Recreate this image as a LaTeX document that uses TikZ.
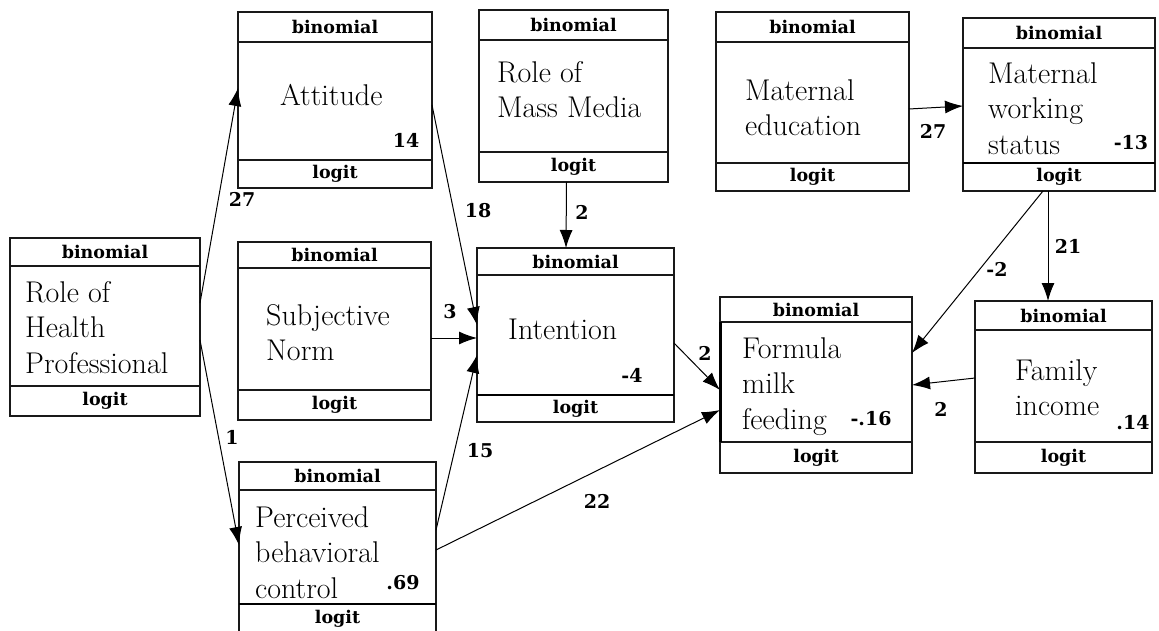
\documentclass[tikz,border=0pt]{standalone}
\usepackage{fontspec}
\newfontfamily\lblfont{DejaVu Serif}
\usetikzlibrary{arrows.meta,calc}
\newcommand\mkbox[8]{%
  \node[box, minimum width={#4-#2}, minimum height={#5-#3}] (#1) at (#2,#3) {};
  \draw[sep] ([yshift={-(#6-#3)}]#1.north west) -- ([yshift={-(#6-#3)}]#1.north east);
  \draw[#8] ([yshift={-(#7-#3)}]#1.north west) -- ([yshift={-(#7-#3)}]#1.north east);
  \node[hdr] (#1-h) at ({(#2+#4)/2},{(#3+#6)/2}) {binomial};
  \node[hdr] (#1-l) at ({(#2+#4)/2},{(#7+#5)/2}) {logit};
}
\begin{document}
\begin{tikzpicture}[x=1pt,y=-1pt,
  box/.style={draw=black!90, line width=1.3pt, fill=white, inner sep=0, outer sep=0, anchor=north west},
  sep/.style={draw=black!90, line width=1.3pt},
  thicksep/.style={draw=black, line width=2.6pt},
  hdr/.style={font=\lblfont\bfseries\fontsize{17.5}{20}\selectfont, inner sep=0},
  main/.style={font=\fontsize{30}{35.5}\selectfont, align=left, inner sep=0, anchor=north west},
  val/.style={font=\lblfont\bfseries\fontsize{19}{22}\selectfont, inner sep=0},
  elbl/.style={font=\lblfont\bfseries\fontsize{19}{22}\selectfont, inner sep=0},
  conn/.style={line width=1pt, -{Latex[length=18pt,width=13pt]}}
]
\useasboundingbox (0,0) rectangle (1159,631);
\clip (0,0) rectangle (1159,631);
\fill[white] (0,0) rectangle (1159,631);

\mkbox{hp}{10}{238}{200}{416}{266}{386}{sep}
\mkbox{att}{238}{12}{432}{188}{42}{160}{sep}
\mkbox{mm}{479}{10}{668}{182}{40}{152}{sep}
\mkbox{me}{716}{12}{909}{191}{42}{163}{sep}
\mkbox{mw}{963}{18}{1155}{191}{48}{163}{thicksep}
\mkbox{sn}{238}{242}{431}{420}{268}{390}{sep}
\mkbox{int}{477}{248}{674}{422}{275}{395}{thicksep}
\mkbox{fm}{720}{297}{912}{473}{322}{442}{sep}
\mkbox{fi}{975}{301}{1152}{473}{330}{442}{sep}
\mkbox{pbc}{239}{462}{436}{634}{490}{604}{thicksep}
\draw[line width=3pt] ([yshift=-25pt]fm.north west) -- ([yshift=-145pt]fm.north west);

% main texts
\node[main] (hp-t) at (25,281) {Role of\\Health\\Professional};
\node[main] (att-t) at (280,84) {Attitude};
\node[main] (mm-t) at (497,61) {Role of\\Mass Media};
\node[main] (me-t) at (745,79) {Maternal\\education};
\node[main] (mw-t) at (988,62) {Maternal\\working\\status};
\node[main] (sn-t) at (266,304) {Subjective\\Norm};
\node[main] (int-t) at (508,319) {Intention};
\node[main] (fm-t) at (742,337) {Formula\\milk\\feeding};
\node[main] (fi-t) at (1015,359) {Family\\income};
\node[main] (pbc-t) at (255,506) {Perceived\\behavioral\\control};

% values
\node[val] (att-v) at (406,140) {14};
\node[val] (mw-v) at (1131,143) {-13};
\node[val] (int-v) at (632,375) {-4};
\node[val] (fm-v) at (871,419) {-.16};
\node[val] (fi-v) at (1133,423) {.14};
\node[val] (pbc-v) at (403,583) {.69};

% connectors
\draw[conn] ([yshift=-65pt]hp.north east) -- ([yshift=-76pt]att.north west);
\draw[conn] ([yshift=-102pt]hp.north east) -- ([yshift=-83pt]pbc.north west);
\draw[conn] ([yshift=-93pt]att.north east) -- ([yshift=-77pt]int.north west);
\draw[conn] ([yshift=-96pt]sn.north east) -- ([yshift=-90pt]int.north west);
\draw[conn] ([yshift=-68pt]pbc.north east) -- ([yshift=-107pt]int.north west);
\draw[conn] ([xshift=-7pt]mm.south) -- ([xshift=-9.5pt]int.north);
\draw[conn] ([yshift=-95pt]int.north east) -- ([yshift=-93pt]fm.north west);
\draw[conn] ([yshift=-88pt]pbc.north east) -- ([yshift=-113pt]fm.north west);
\draw[conn] ([yshift=-97pt]me.north east) -- ([yshift=-88pt]mw.north west);
\draw[conn] ([xshift=-16pt]mw.south) -- ([yshift=-56pt]fm.north east);
\draw[conn] ([xshift=-11pt]mw.south) -- ([xshift=-15.5pt]fi.north);
\draw[conn] ([yshift=-77pt]fi.north west) -- ([yshift=-88pt]fm.north east);

% edge labels
\node[elbl] (l1) at (242,199) {27};
\node[elbl] (l2) at (232,437) {1};
\node[elbl] (l3) at (478,211) {18};
\node[elbl] (l4) at (582,212) {2};
\node[elbl] (l5) at (450,312) {3};
\node[elbl] (l6) at (480,451) {15};
\node[elbl] (l7) at (705,353) {2};
\node[elbl] (l8) at (597,501) {22};
\node[elbl] (l9) at (997,269) {-2};
\node[elbl] (l10) at (1068,246) {21};
\node[elbl] (l11) at (941,409) {2};
\node[elbl] (l12) at (933,131) {27};
\end{tikzpicture}
\end{document}
